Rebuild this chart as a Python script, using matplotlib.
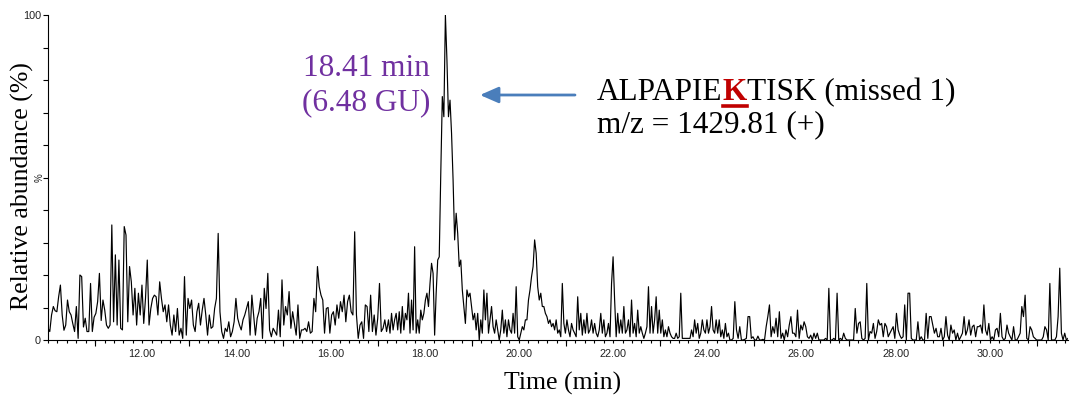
import numpy as np
import matplotlib.pyplot as plt
from matplotlib.lines import Line2D
from matplotlib.ticker import FixedLocator, MultipleLocator

# retention-time windows (min) of the three traced stretches
seg_a_span = (10.0, 17.19)
seg_b_span = (17.23, 24.45)
seg_c_span = (24.48, 31.66)

# relative abundance (%)
seg_a = [3.6, 2.6, 7.7, 10.3, 9.0, 8.7, 13.3, 16.9, 7.7, 3.0, 4.6, 12.3,
         8.7, 7.7, 5.0, 2.6, 10.3, 0.5, 20.0, 19.5, 4.0, 6.7, 2.6, 2.6,
         17.4, 2.6, 7.0, 8.2, 11.8, 20.5, 6.0, 12.3, 9.2, 4.6, 3.6, 4.6,
         35.4, 5.6, 26.2, 4.6, 24.6, 3.6, 3.1, 34.9, 32.3, 5.6,
         22.6, 17.9, 7.7, 15.9, 4.6, 14.4, 7.7, 16.9, 5.1, 12.8,
         24.6, 4.6, 9.7, 12.8, 13.8, 13.3, 7.7, 17.9, 12.8, 8.7,
         10.8, 5.6, 10.8, 4.6, 1.5, 7.7, 2.6, 9.7, 1.5, 3.6,
         0.5, 19.5, 1.5, 12.8, 9.7, 12.3, 4.6, 2.6, 8.7, 11.3,
         4.6, 9.2, 12.8, 7.7, 1.5, 7.7, 3.6, 4.1, 9.7, 12.8,
         32.8, 8.7, 2.6, 0.5, 3.6, 2.6, 5.6, 1.0, 2.6, 5.6,
         12.8, 6.7, 4.6, 3.1, 6.2, 7.7, 9.7, 11.8, 1.5, 13.8,
         7.7, 1.5, 6.7, 8.7, 12.8, 0.5, 15.9, 9.7, 20.5, 3.1,
         1.0, 3.6, 2.6, 1.5, 9.2, 1.0, 18.5, 4.6, 10.3, 7.7,
         14.9, 3.6, 8.7, 5.1, 1.5, 10.8, 0.5, 3.1, 3.1, 3.6,
         2.6, 5.6, 2.1, 2.6, 12.8, 8.7, 22.6, 16.4, 13.8, 12.3,
         2.1, 9.7, 10.0, 2.1, 7.7, 8.7, 4.6, 10.8, 6.7, 11.8,
         8.7, 13.8, 5.6, 11.8, 13.8, 8.7, 7.7, 33.3, 7.7, 0.5,
         4.6, 5.6, 0.5, 10.8, 10.3, 2.6, 13.8, 2.6, 7.7, 1.5,
         6.7, 17.4, 2.6, 3.6, 6.2, 2.6]

seg_b = [6.2, 2.1, 8.2, 3.1, 6.2, 8.2, 3.1, 8.7, 2.1,
         10.3, 3.1, 8.2, 6.2, 14.4, 2.1, 12.3, 3.1, 28.7, 2.1,
         6.2, 2.1, 9.2, 6.2, 8.2, 12.3, 14.4, 10.3, 17.4, 23.6,
         20.5, 1.5, 14.4, 24.6, 25.6, 51.3, 74.9, 68.7, 100.0, 86.2,
         68.7, 73.8, 63.6, 49.2, 30.8, 39.0, 32.8, 22.6, 24.6, 15.4,
         10.3, 5.1, 15.4, 13.3, 14.4, 10.3, 6.2, 8.2, 3.1, 8.2,
         0.0, 6.2, 2.1, 15.4, 6.2, 14.4, 2.1, 6.2, 10.3, 4.1,
         2.1, 6.2, 3.1, 0.0, 3.1, 9.2, 2.1, 6.2,
         1.0, 6.2, 3.1, 2.1, 8.2, 2.1, 16.4, 1.0,
         0.0, 2.1, 4.1, 3.1, 6.2, 6.2, 12.3, 15.4, 19.5, 22.6,
         30.8, 26.7, 16.4, 12.3, 14.4, 10.3, 10.3, 8.2, 7.2, 5.1,
         6.2, 4.1, 5.1, 3.1, 6.2, 2.1, 3.1, 1.0, 17.4, 5.1,
         2.1, 6.2, 3.1, 1.0, 5.1, 3.1, 2.1, 1.0, 13.3, 3.1,
         8.2, 1.5, 6.2, 2.1, 8.2, 2.1, 3.1, 6.2, 2.1, 5.1,
         2.1, 1.0, 3.1, 8.2, 2.1, 6.2, 1.0, 2.1, 5.1, 1.0,
         17.4, 25.6, 12.3, 1.0, 8.2, 2.1, 6.2, 2.1, 10.3, 2.1,
         3.1, 6.2, 1.0, 12.3, 2.1, 5.1, 1.0, 9.2, 2.1, 4.1,
         2.1, 0.5, 2.1, 4.1, 16.4, 2.1, 10.3, 2.1, 6.2, 13.3,
         2.1, 9.2, 2.1, 6.2, 1.0, 3.1, 1.0, 4.1, 2.1, 1.0,
         0.5, 0.5, 2.1, 0.5, 1.0, 14.4, 0.5, 0.5, 0.5, 0.5,
         0.5, 0.5, 3.1, 1.0, 6.2, 2.1, 5.1, 0.5, 2.1, 6.2,
         3.1, 2.1, 6.2, 2.1, 4.1, 10.3, 3.1, 2.1, 6.2, 2.1,
         6.2, 1.0, 3.1, 0.5, 5.1, 1.0, 2.1]

seg_c = [0, 0, 0.5, 11.8, 3.1, 0.5, 4.1, 0, 0, 0.2, 0.5, 7.2, 7.2, 0.5, 1.0, 0, 0, 1.2, 0, 0,
         0.2, 0, 4.1, 7.2, 10.8, 1.0, 4.1, 2.1, 6.7, 1.0, 8.7, 0.5, 2.1, 0, 3.1, 1.0, 4.6, 7.2, 2.1, 2.1,
         1.0, 9.2, 0.5, 4.6, 3.1, 5.6, 4.1, 1.0, 0.5, 1.5, 0, 2.1, 0.5, 2.1, 0, 0, 0, 0, 0.5, 0,
         15.9, 0, 0, 0.5, 0, 14.4, 0, 0.5, 0, 2.1, 0.5, 0, 0, 0, 0, 0, 9.7, 2.1, 5.1, 5.6,
         0.5, 0, 0.5, 17.4, 0, 2.6, 2.1, 5.1, 0.5, 2.6, 6.2, 4.6, 5.1, 1.0, 5.1, 4.1, 1.0, 2.1, 3.1, 4.1,
         0.5, 8.2, 3.1, 1.5, 0.5, 1.0, 10.8, 0, 14.4, 14.4, 0.5, 0, 0, 0, 5.6, 0, 1.0, 0, 0, 8.2,
         0.5, 7.2, 7.2, 4.6, 2.1, 3.6, 1.0, 1.0, 3.6, 0, 1.0, 7.2, 1.5, 0, 4.6, 2.1, 3.1, 0, 2.1, 0,
         1.0, 2.1, 7.2, 1.5, 3.1, 6.2, 1.5, 4.1, 4.6, 1.0, 4.1, 4.1, 4.6, 2.1, 10.8, 3.1, 1.5, 5.1, 0, 1.0,
         0, 3.1, 3.6, 1.0, 8.2, 1.0, 0, 0.5, 4.6, 2.1, 1.0, 0, 4.1, 0, 0, 1.0, 2.1, 10.3, 7.2, 13.8,
         0.5, 0, 4.1, 3.1, 1.0, 0.5, 0, 0, 0, 0, 1.0, 4.1, 3.1, 0, 17.4, 0, 0, 0, 1.0, 7.2,
         22.1, 2.1, 0, 2.1, 0, 0.5]

x_label_ticks = [12, 14, 16, 18, 20, 22, 24, 26, 28, 30]
odd_ticks = [11, 13, 15, 17, 19, 21, 23, 25, 27, 29, 31]
peak_lines = ["18.41 min", "(6.48 GU)"]
peptide = ["ALPAPIE", "K", "TISK (missed 1)"]
mz_line = "m/z = 1429.81 (+)"

W, H = 1070, 400
SERIF = "Liberation Serif"
SANS = "Liberation Sans"

times = np.concatenate([np.linspace(*seg_a_span, len(seg_a)),
                        np.linspace(*seg_b_span, len(seg_b)),
                        np.linspace(*seg_c_span, len(seg_c))])
abund = np.concatenate([seg_a, seg_b, seg_c])

fig = plt.figure(figsize=(W / 100, H / 100), dpi=100)
ax = fig.add_axes([48 / W, 60 / H, 1020 / W, 325 / H])
ax.plot(times, abund, color="black", lw=0.85)

ax.set_xlim(10.0, 31.66)
ax.set_ylim(0, 100)
for s in ("top", "right"):
    ax.spines[s].set_visible(False)
for s in ("left", "bottom"):
    ax.spines[s].set_linewidth(0.8)

ax.yaxis.set_major_locator(FixedLocator(np.arange(0, 101, 10)))
ax.set_yticklabels(["0"] + [""] * 9 + ["100"])
ax.tick_params(axis="y", direction="out", length=3.6, width=0.8, pad=1.5,
               labelsize=7.8, labelcolor="#222222")

ax.xaxis.set_major_locator(FixedLocator(x_label_ticks))
ax.xaxis.set_minor_locator(MultipleLocator(0.2))
ax.set_xticklabels(["%.2f" % t for t in x_label_ticks])
ax.tick_params(axis="x", which="both", direction="out", length=2.3, width=0.8,
               pad=4.0, labelsize=7.8, labelcolor="#222222")
# longer marks at the odd minutes
ax.vlines(odd_ticks, -6 / 325, 0, transform=ax.get_xaxis_transform(),
          color="black", lw=0.8, clip_on=False)
for lab in ax.get_xticklabels() + ax.get_yticklabels():
    lab.set_family(SANS)

fig.text(40 / W, 1 - 178 / H, "%", rotation=90, ha="center", va="center",
         fontsize=7, family=SANS, color="#222222")

fig.text(22 / W, 1 - 186 / H, "Relative abundance (%)", rotation=90,
         ha="center", va="center", fontsize=18.5, family=SERIF)
fig.text(563 / W, 1 - 390 / H, "Time (min)", ha="center", va="baseline",
         fontsize=18.5, family=SERIF)

purple = "#7030A0"
fig.text(366 / W, 1 - 76 / H, peak_lines[0], ha="center", va="baseline",
         fontsize=22.5, family=SERIF, color=purple)
fig.text(366 / W, 1 - 110 / H, peak_lines[1], ha="center", va="baseline",
         fontsize=22.5, family=SERIF, color=purple)

ax.annotate("", xy=(480 / W, 1 - 95 / H), xytext=(575 / W, 1 - 95 / H),
            xycoords="figure fraction", textcoords="figure fraction",
            arrowprops=dict(arrowstyle="-|>,head_length=0.8,head_width=0.35",
                            color="#4A7EBB", lw=2, mutation_scale=14,
                            shrinkA=0, shrinkB=0))

# peptide line: black / bold red underlined K / black
r = fig.canvas.get_renderer()
y1 = 1 - 100 / H
t1 = fig.text(597 / W, y1, peptide[0], va="baseline", fontsize=22.5, family=SERIF)
x_px = t1.get_window_extent(r).x1
t2 = fig.text(x_px / W, y1, peptide[1], va="baseline", fontsize=22.5,
              family=SERIF, weight="bold", color="#C00000")
bb = t2.get_window_extent(r)
fig.add_artist(Line2D([bb.x0 / W, bb.x1 / W], [1 - 106 / H, 1 - 106 / H],
                      color="#C00000", lw=2.6))
fig.text(bb.x1 / W, y1, peptide[2], va="baseline", fontsize=22.5, family=SERIF)
fig.text(597 / W, 1 - 132 / H, mz_line, va="baseline", fontsize=22.5, family=SERIF)

fig.savefig("out.png", dpi=100)
